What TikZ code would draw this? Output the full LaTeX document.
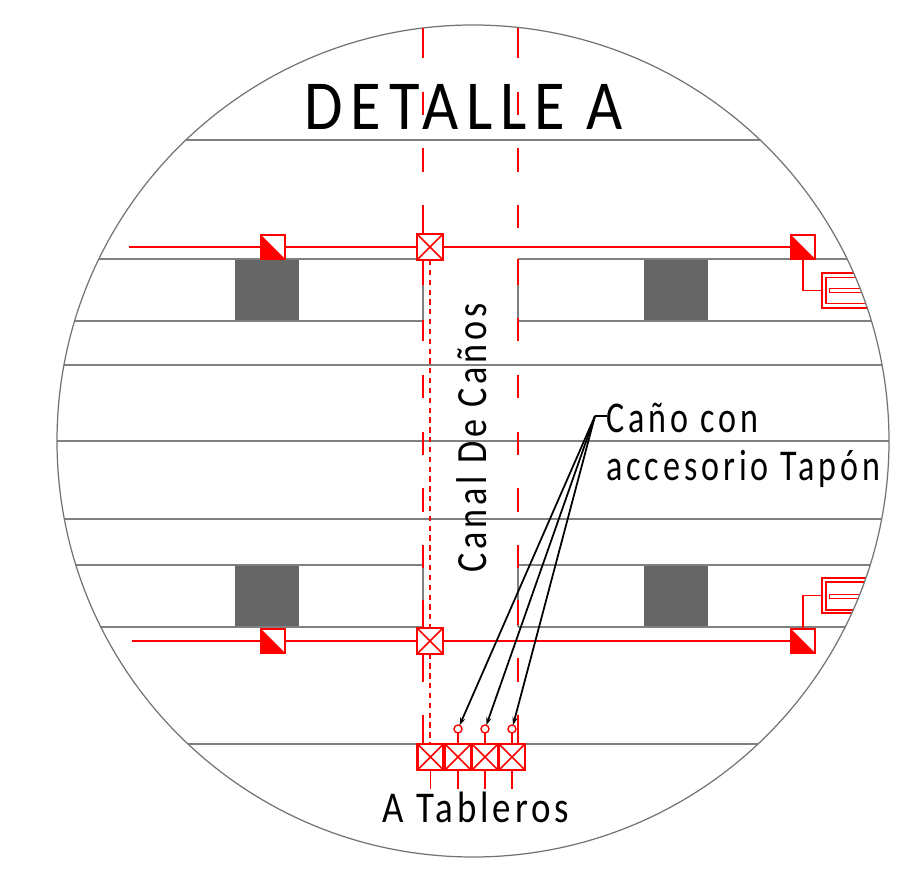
\documentclass[tikz,border=0pt]{standalone}
\usepackage{fontspec}
\usepackage{xcolor}
\usetikzlibrary{arrows.meta}
\newfontfamily\cadfont[LetterSpace=9,FakeStretch=0.84]{Carlito}
\newfontfamily\titlefont[LetterSpace=11,FakeStretch=0.89]{Carlito}
\newfontfamily\notefont[LetterSpace=9,FakeStretch=0.775]{Carlito}
\definecolor{wallgray}{HTML}{808080}
\definecolor{colgray}{HTML}{666666}
\tikzset{
  wall/.style={draw=wallgray, line width=1pt},
  pipe/.style={draw=red, line width=1pt},
  column/.style={fill=colgray, draw=none},
  crossbox/.style={draw=red, line width=1.2pt, fill=white, minimum size=0.52cm, inner sep=0pt, outer sep=0pt,
    path picture={\draw[red, line width=0.9pt] (path picture bounding box.north west) -- (path picture bounding box.south east)
      (path picture bounding box.north east) -- (path picture bounding box.south west);}},
  halfbox/.style={draw=red, line width=1pt, fill=white, minimum size=0.48cm, inner sep=0pt, outer sep=0pt,
    path picture={\fill[red] (path picture bounding box.north west) -- (path picture bounding box.south east)
      -- (path picture bounding box.south west) -- cycle;}},
  plug/.style={circle, draw=red, line width=0.8pt, fill=white, minimum size=0.16cm, inner sep=0pt, outer sep=0pt},
  fixture/.style={rectangle, draw=red, line width=1pt, inner sep=0pt, outer sep=0pt},
  leader/.style={draw=black, line width=1pt},
  cadtext/.style={inner sep=0pt, text=black, font=\cadfont}
}
\begin{document}
\begin{tikzpicture}[x=0.02cm, y=-0.02cm]
\useasboundingbox (0,0) rectangle (900,891);
% columns
\fill[column] (235,259) rectangle (299,321);
\fill[column] (644,259) rectangle (708,321);
\fill[column] (235,566) rectangle (299,628);
\fill[column] (644,566) rectangle (708,627);
% walls, cut at the circle
\begin{scope}
\clip (473,441) circle (416);
\foreach \y in {140,365,441,519,744}
  \draw[wall] (0,\y) -- (900,\y);
\foreach \y in {259,321,565,627} {
  \draw[wall] (0,\y) -- (423,\y);
  \draw[wall] (518,\y) -- (900,\y);
}
\draw[wall] (423,259) -- (423,321);
\draw[wall] (518,259) -- (518,321);
\draw[wall] (423,565) -- (423,627);
\draw[wall] (518,565) -- (518,627);
% fixtures on the right
\node[fixture, minimum width=1.3cm, minimum height=0.7cm, anchor=west] (fixtT) at (822,290.5) {};
\node[fixture, minimum width=1.2cm, minimum height=0.52cm, anchor=west] at (826,290.5) {};
\node[fixture, line width=0.5pt, minimum width=0.64cm, minimum height=0.08cm, anchor=west] at (829,290.5) {};
\node[fixture, minimum width=1.3cm, minimum height=0.7cm, anchor=west] (fixtB) at (822,595.5) {};
\node[fixture, minimum width=1.2cm, minimum height=0.56cm, anchor=west] at (826,596) {};
\node[fixture, line width=0.5pt, minimum width=0.62cm, minimum height=0.08cm, anchor=west] at (829,596) {};
\end{scope}
\draw[gray!90!black, line width=0.7pt] (473,441) circle (416);
% channel lines
\foreach \a/\b in {28/58,92/115,148/172,205/235,260/285,320/341,375/398,432/455,488/512,545/568,600/628,650/682,715/745}
  \draw[pipe] (423,\a) -- (423,\b);
\foreach \a/\b in {28/58,92/115,148/172,205/228,259/285,318/341,375/398,432/455,488/512,545/568,600/625,658/682,715/745}
  \draw[pipe] (518,\a) -- (518,\b);
\draw[pipe, dash pattern=on 3pt off 2.6pt] (430,260) -- (430,744);
% valves
\node[crossbox] (crossT) at (430,247) {};
\node[crossbox] (crossB) at (430,641) {};
\node[halfbox] (halfTL) at (273,247) {};
\node[halfbox] (halfTR) at (803,247) {};
\node[halfbox] (halfBL) at (273,641) {};
\node[halfbox] (halfBR) at (803,641) {};
\coordinate (startT) at (129,247);
\coordinate (startB) at (132,641);
\draw[pipe] (startT) -- (halfTL) -- (crossT) -- (halfTR);
\draw[pipe] (startB) -- (halfBL) -- (crossB) -- (halfBR);
\draw[pipe] (halfTR.south) |- (fixtT.west);
\draw[pipe] (halfBR.north) |- (fixtB.west);
% boards
\foreach \name/\x in {boxA/430.5,boxB/458,boxC/485,boxD/512}
  \node[crossbox] (\name) at (\x,757) {};
\foreach \name/\x in {plugB/458,plugC/485,plugD/512} {
  \node[plug] (\name) at (\x,729) {};
}
\draw[pipe] (plugB) -- (boxB);
\draw[pipe] (plugC) -- (boxC);
\draw[pipe] (plugD) -- (boxD);
\foreach \name/\x in {boxA/430.5,boxB/458,boxC/485,boxD/512} {
  \coordinate (\name end) at (\x,789);
  \draw[pipe] (\name) -- (\name end);
}
% note
\coordinate (elbow) at (595,416);
\coordinate (noteEnd) at (607,416);
\draw[leader] (noteEnd) -- (elbow);
\draw[leader, -{Stealth[length=4.5pt,width=3pt]}] (elbow) -- (plugB);
\draw[leader, -{Stealth[length=4.5pt,width=3pt]}] (elbow) -- (plugC);
\draw[leader, -{Stealth[length=4.5pt,width=3pt]}] (elbow) -- (plugD);
% texts
\node[cadtext, font=\titlefont\fontsize{40}{40}\selectfont, anchor=base] (title) at (464,130) {DETALLE A};
\node[cadtext, font=\cadfont\fontsize{24.5}{25}\selectfont, rotate=90, anchor=base] (channel) at (486,438) {Canal De Caños};
\node[cadtext, font=\notefont\fontsize{25}{25}\selectfont, anchor=base west] (noteA) at (606,433) {Caño con};
\node[cadtext, font=\notefont\fontsize{25}{25}\selectfont, anchor=base west] (noteB) at (606,481) {accesorio Tapón};
\node[cadtext, font=\cadfont\fontsize{25}{25}\selectfont, anchor=base] (boards) at (476,823) {A Tableros};
\end{tikzpicture}
\end{document}
